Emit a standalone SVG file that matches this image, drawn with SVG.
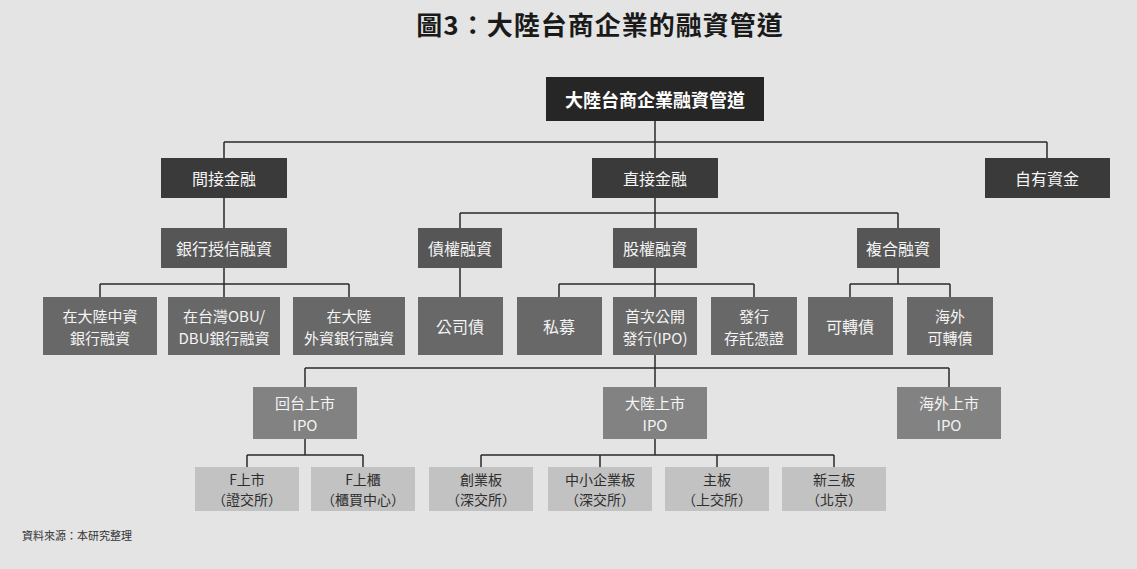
<svg xmlns="http://www.w3.org/2000/svg" width="1137" height="569" viewBox="0 0 1137 569">
<style>
text{font-family:"Noto Sans CJK TC","Noto Sans CJK SC",sans-serif;text-anchor:middle;dominant-baseline:central}
.t{font-size:26px;font-weight:bold;fill:#1a1a1a;letter-spacing:1px;dominant-baseline:auto}
.l1 rect{fill:#262626}
.l2 rect{fill:#3a3a3a}
.l3 rect{fill:#565656}
.l4 rect{fill:#686868}
.l5 rect{fill:#828282}
.l6 rect{fill:#c2c2c2}
.w{fill:#f4f4f4;font-size:16px}
.w2{fill:#f4f4f4;font-size:15px}
.d{fill:#2e2e2e;font-size:14px}
.r{fill:#ffffff;font-size:18px;font-weight:bold}
#conn path{fill:none;stroke:#2a2a2a;stroke-width:1.5}
.src{font-size:11px;fill:#333;text-anchor:start;dominant-baseline:auto}
</style>
<rect x="0" y="0" width="1137" height="569" fill="#e4e4e4"/>
<text class="t" x="600" y="35">圖3：大陸台商企業的融資管道</text>

<g id="conn">
<path d="M655 121V142M224 142H1047M224 142V158M655 142V158M1047 142V158"/>
<path d="M224 198V228M655 198V228M460 213H898M460 213V228M898 213V228"/>
<path d="M224 268V284M100 284H349M100 284V297M224 284V297M349 284V297"/>
<path d="M460 268V297"/>
<path d="M655 268V297M559 284H754M559 284V297M754 284V297"/>
<path d="M898 268V284M850 284H950M850 284V297M950 284V297"/>
<path d="M655 355V368M305 368H949M305 368V387M655 368V387M949 368V387"/>
<path d="M305 439V455M247 455H363M247 455V467M363 455V467"/>
<path d="M655 439V455M481 455H834M481 455V467M600 455V467M717 455V467M834 455V467"/>
</g>

<g id="root" class="l1"><rect x="546" y="77" width="218" height="44"/><text class="r" x="655" y="99">大陸台商企業融資管道</text></g>

<g id="indirect" class="l2"><rect x="161" y="158" width="126" height="40"/><text class="w" x="224" y="178">間接金融</text></g>
<g id="direct" class="l2"><rect x="592" y="158" width="126" height="40"/><text class="w" x="655" y="178">直接金融</text></g>
<g id="own" class="l2"><rect x="985" y="158" width="125" height="40"/><text class="w" x="1047" y="178">自有資金</text></g>

<g id="bank" class="l3"><rect x="161" y="228" width="126" height="40"/><text class="w" x="224" y="248">銀行授信融資</text></g>
<g id="debt" class="l3"><rect x="418" y="228" width="84" height="40"/><text class="w" x="460" y="248">債權融資</text></g>
<g id="equity" class="l3"><rect x="613" y="228" width="84" height="40"/><text class="w" x="655" y="248">股權融資</text></g>
<g id="hybrid" class="l3"><rect x="857" y="228" width="83" height="40"/><text class="w" x="898" y="248">複合融資</text></g>

<g id="cnbank" class="l4"><rect x="43" y="297" width="114" height="58"/><text class="w2" x="100" y="315">在大陸中資</text><text class="w2" x="100" y="337">銀行融資</text></g>
<g id="obu" class="l4"><rect x="168" y="297" width="112" height="58"/><text class="w2" x="224" y="315">在台灣OBU/</text><text class="w2" x="224" y="337">DBU銀行融資</text></g>
<g id="fbank" class="l4"><rect x="293" y="297" width="112" height="58"/><text class="w2" x="349" y="315">在大陸</text><text class="w2" x="349" y="337">外資銀行融資</text></g>
<g id="bond" class="l4"><rect x="418" y="297" width="85" height="58"/><text class="w" x="460" y="326">公司債</text></g>
<g id="private" class="l4"><rect x="517" y="297" width="85" height="58"/><text class="w" x="559" y="326">私募</text></g>
<g id="ipo" class="l4"><rect x="613" y="297" width="84" height="58"/><text class="w2" x="655" y="315">首次公開</text><text class="w2" x="655" y="337">發行(IPO)</text></g>
<g id="dr" class="l4"><rect x="711" y="297" width="86" height="58"/><text class="w2" x="754" y="315">發行</text><text class="w2" x="754" y="337">存託憑證</text></g>
<g id="cb" class="l4"><rect x="808" y="297" width="85" height="58"/><text class="w" x="850" y="326">可轉債</text></g>
<g id="ecb" class="l4"><rect x="907" y="297" width="86" height="58"/><text class="w2" x="950" y="315">海外</text><text class="w2" x="950" y="337">可轉債</text></g>

<g id="tw" class="l5"><rect x="253" y="387" width="104" height="52"/><text class="w2" x="305" y="402">回台上市</text><text class="w2" x="305" y="424">IPO</text></g>
<g id="cn" class="l5"><rect x="603" y="387" width="104" height="52"/><text class="w2" x="655" y="402">大陸上市</text><text class="w2" x="655" y="424">IPO</text></g>
<g id="os" class="l5"><rect x="897" y="387" width="104" height="52"/><text class="w2" x="949" y="402">海外上市</text><text class="w2" x="949" y="424">IPO</text></g>

<g id="f1" class="l6"><rect x="195" y="467" width="104" height="44"/><text class="d" x="247" y="479">F上市</text><text class="d" x="247" y="499">（證交所）</text></g>
<g id="f2" class="l6"><rect x="311" y="467" width="104" height="44"/><text class="d" x="363" y="479">F上櫃</text><text class="d" x="363" y="499">（櫃買中心）</text></g>
<g id="gem" class="l6"><rect x="429" y="467" width="104" height="44"/><text class="d" x="481" y="479">創業板</text><text class="d" x="481" y="499">（深交所）</text></g>
<g id="sme" class="l6"><rect x="548" y="467" width="104" height="44"/><text class="d" x="600" y="479">中小企業板</text><text class="d" x="600" y="499">（深交所）</text></g>
<g id="main" class="l6"><rect x="665" y="467" width="104" height="44"/><text class="d" x="717" y="479">主板</text><text class="d" x="717" y="499">（上交所）</text></g>
<g id="neeq" class="l6"><rect x="782" y="467" width="104" height="44"/><text class="d" x="834" y="479">新三板</text><text class="d" x="834" y="499">（北京）</text></g>

<text class="src" x="22" y="540">資料來源：本研究整理</text>
</svg>
